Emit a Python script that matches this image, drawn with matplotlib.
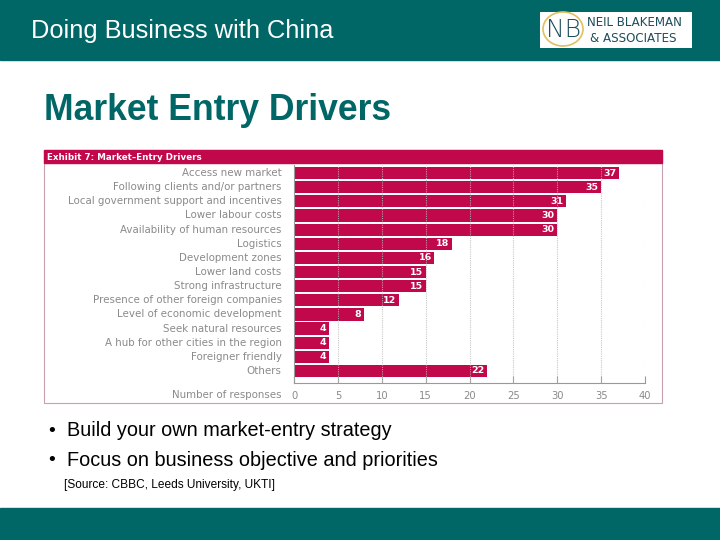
import matplotlib
matplotlib.use('Agg')
import matplotlib.pyplot as plt
from matplotlib.patches import Rectangle, Ellipse

# Data read from the exhibit
drivers = [
    "Access new market",
    "Following clients and/or partners",
    "Local government support and incentives",
    "Lower labour costs",
    "Availability of human resources",
    "Logistics",
    "Development zones",
    "Lower land costs",
    "Strong infrastructure",
    "Presence of other foreign companies",
    "Level of economic development",
    "Seek natural resources",
    "A hub for other cities in the region",
    "Foreigner friendly",
    "Others",
]
responses = [37, 35, 31, 30, 30, 18, 16, 15, 15, 12, 8, 4, 4, 4, 22]
x_ticks = [0, 5, 10, 15, 20, 25, 30, 35, 40]

TEAL = '#006666'
CRIMSON = '#c0084a'
GREY = '#8a8a8a'

W, H = 720, 540
fig = plt.figure(figsize=(7.2, 5.4), dpi=100)

# page layer in pixel coordinates
bg = fig.add_axes([0, 0, 1, 1])
bg.set_xlim(0, W)
bg.set_ylim(H, 0)
bg.axis('off')

bg.add_patch(Rectangle((0, 0), W, 60, color=TEAL, zorder=0))
bg.add_patch(Rectangle((0, 508), W, 32, color=TEAL, zorder=0))
bg.text(31, 31, 'Doing Business with China', color='white', fontsize=18.3,
        family='Liberation Sans', va='center', ha='left')

# logo
bg.add_patch(Rectangle((540, 12), 152, 36, facecolor='white', edgecolor='none'))
bg.add_patch(Ellipse((563, 29), 40, 34, facecolor='white', edgecolor='#e0c060', lw=1.2))
bg.text(564, 30, 'NB', color='#1e4d5c', fontsize=18, ha='center', va='center',
        family='DejaVu Sans', fontweight='light')
bg.text(587, 23, 'NEIL BLAKEMAN', color='#1e4d5c', fontsize=8.6, ha='left', va='center',
        family='DejaVu Sans')
bg.text(590, 38, '& ASSOCIATES', color='#1e4d5c', fontsize=8.6, ha='left', va='center',
        family='DejaVu Sans')

bg.text(44, 111, 'Market Entry Drivers', color=TEAL, fontsize=25.6, fontweight='bold',
        family='Liberation Sans', va='center', ha='left')

# exhibit frame and header bar
bg.add_patch(Rectangle((44, 150), 618, 253, facecolor='white', edgecolor='#c9a0b0',
                       lw=0.8, zorder=1))
bg.add_patch(Rectangle((44, 150), 618, 13, color=CRIMSON, zorder=2))
bg.text(47, 157, 'Exhibit 7: Market\u2013Entry Drivers', color='white', fontsize=6.3,
        fontweight='bold', va='center', ha='left', zorder=3)

# bullets
bg.text(46, 431, '\u2022', fontsize=13, va='center', ha='left')
bg.text(67, 431, 'Build your own market-entry strategy', fontsize=14.3,
        family='Liberation Sans', va='center', ha='left')
bg.text(46, 460, '\u2022', fontsize=13, va='center', ha='left')
bg.text(67, 460, 'Focus on business objective and priorities', fontsize=14.3,
        family='Liberation Sans', va='center', ha='left')
bg.text(64, 485, '[Source: CBBC, Leeds University, UKTI]', fontsize=8.6,
        family='Liberation Sans', va='center', ha='left')

# bar chart
ax = fig.add_axes([294 / W, 1 - 383 / H, 351 / W, 218 / H])
pos = list(range(len(drivers)))
ax.barh(pos, responses, height=0.86, color=CRIMSON, zorder=2)
ax.set_ylim(14.85, -0.57)
ax.set_xlim(0, 40)

for x in x_ticks[1:]:
    ax.axvline(x, color='#bbbbbb', ls=(0, (1, 1)), lw=0.8, zorder=3, alpha=0.8)

for p, v in zip(pos, responses):
    ax.text(v - 0.3, p, str(v), color='white', fontsize=6.8, fontweight='bold',
            ha='right', va='center', zorder=4)
    ax.text(-1.4, p, drivers[p], color=GREY, fontsize=7.4, ha='right', va='center')

ax.set_xticks(x_ticks)
ax.set_xticklabels([str(t) for t in x_ticks], color=GREY, fontsize=7.2)
ax.tick_params(axis='x', direction='in', length=5, color='#999999', pad=6)
ax.set_yticks([])
for s in ['top', 'right']:
    ax.spines[s].set_visible(False)
ax.spines['bottom'].set_color('#999999')
ax.spines['left'].set_color('#999999')
bg.text(281, 395, 'Number of responses', color=GREY, fontsize=7.4, ha='right',
        va='center')

fig.savefig('out.png', dpi=100)
